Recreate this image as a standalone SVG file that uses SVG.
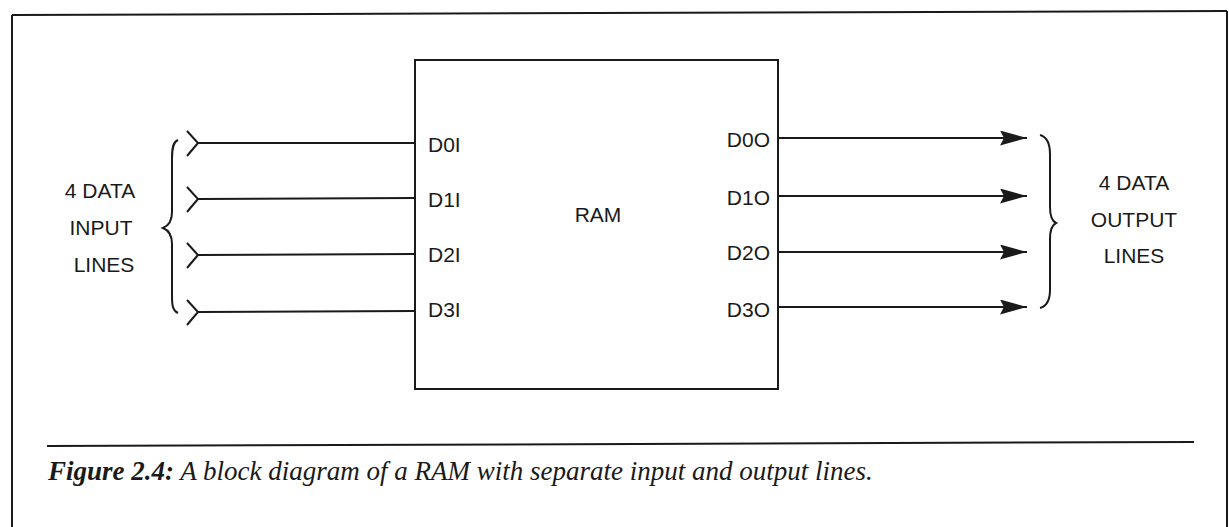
<svg xmlns="http://www.w3.org/2000/svg" width="1229" height="527" viewBox="0 0 1229 527">
<defs>
<style>
.ln{stroke:#1a1a1a;stroke-width:2;fill:none}
.lbl{font-family:"Liberation Sans",Arial,sans-serif;font-size:21px;fill:#1a1a1a}
.big{font-family:"Liberation Sans",Arial,sans-serif;font-size:21px;fill:#1a1a1a;text-anchor:middle}
.cap{font-family:"Liberation Serif","Times New Roman",serif;font-size:27px;font-style:italic;fill:#1a1a1a}
</style>
<marker id="arr" viewBox="0 0 27 15" refX="27" refY="7.5" markerWidth="27" markerHeight="15" markerUnits="userSpaceOnUse" orient="auto">
<path d="M0,0 L27,7.5 L0,15 L4,7.5 Z" fill="#1a1a1a"/>
</marker>
</defs>
<rect width="1229" height="527" fill="#ffffff"/>
<g id="frame">
<path class="ln" d="M12,15 L1227,11" stroke-width="3"/>
<path class="ln" d="M12,15 L12,527" stroke-width="3"/>
<path class="ln" d="M1227,11 L1227,527" stroke-width="2"/>
<path class="ln" d="M47,446 L1194,442"/>
</g>
<g id="ram">
<rect x="415" y="60" width="363" height="329" class="ln" stroke-width="2.5"/>
<text class="big" x="598" y="222" font-size="23">RAM</text>
<text class="lbl" x="428" y="152">D0I</text>
<text class="lbl" x="428" y="207">D1I</text>
<text class="lbl" x="428" y="262">D2I</text>
<text class="lbl" x="428" y="317">D3I</text>
<text class="lbl" x="770" y="147" text-anchor="end">D0O</text>
<text class="lbl" x="770" y="205" text-anchor="end">D1O</text>
<text class="lbl" x="770" y="260" text-anchor="end">D2O</text>
<text class="lbl" x="770" y="317" text-anchor="end">D3O</text>
</g>
<g id="input-group">
<path class="ln" d="M178,140 C173,142 172,148 172,158 L172,212 C172,222 168,226 163,228 C168,230 172,234 172,244 L172,296 C172,306 173,311 178,313"/>
<text class="big" x="100" y="198">4 DATA</text>
<text class="big" x="101" y="235">INPUT</text>
<text class="big" x="104" y="272">LINES</text>
</g>
<g id="output-group">
<path class="ln" d="M1040,135 C1047,137 1050,144 1050,154 L1050,207 C1050,217 1052,221 1056,223 C1052,225 1050,229 1050,239 L1050,290 C1050,300 1047,306 1040,308"/>
<text class="big" x="1134" y="190">4 DATA</text>
<text class="big" x="1134" y="227">OUTPUT</text>
<text class="big" x="1134" y="263">LINES</text>
</g>
<g id="connectors">
<path class="ln" d="M187,131 L198,143 L187,156 M198,143 L415,143"/>
<path class="ln" d="M187,187 L198,199 L187,212 M198,199 L415,198"/>
<path class="ln" d="M187,243 L198,255 L187,268 M198,255 L415,254"/>
<path class="ln" d="M187,300 L198,312 L187,325 M198,312 L415,311"/>
<path class="ln" d="M778,138 L1027,138" marker-end="url(#arr)"/>
<path class="ln" d="M778,196 L1027,196" marker-end="url(#arr)"/>
<path class="ln" d="M778,252 L1027,252" marker-end="url(#arr)"/>
<path class="ln" d="M778,307 L1027,307" marker-end="url(#arr)"/>
</g>
<g id="caption">
<text class="cap" x="48" y="480"><tspan font-weight="bold">Figure 2.4:</tspan> A block diagram of a RAM with separate input and output lines.</text>
</g>
</svg>
